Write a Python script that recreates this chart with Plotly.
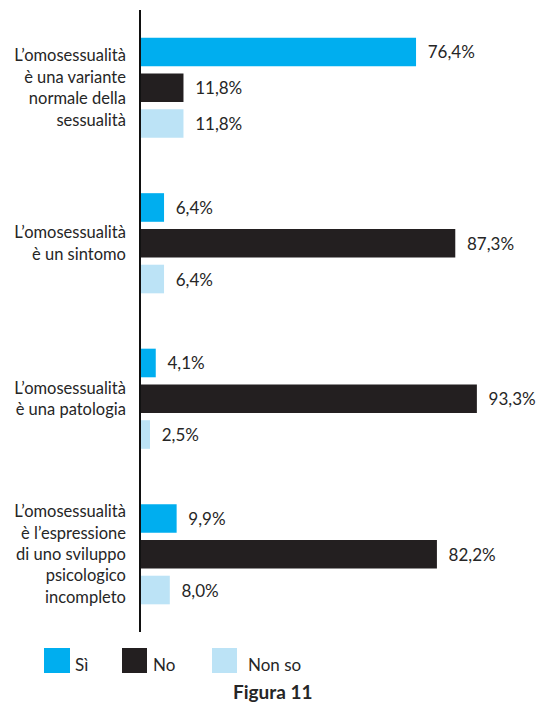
import plotly.graph_objects as go

categories = [
    "L’omosessualità<br>è una variante<br>normale della<br>sessualità",
    "L’omosessualità<br>è un sintomo",
    "L’omosessualità<br>è una patologia",
    "L’omosessualità<br>è l’espressione<br>di uno sviluppo<br>psicologico<br>incompleto",
]
series_names = ["Sì", "No", "Non so"]
si_values = [76.4, 6.4, 4.1, 9.9]
no_values = [11.8, 87.3, 93.3, 82.2]
nonso_values = [11.8, 6.4, 2.5, 8.0]
colors = ["#00aeef", "#231f20", "#bce3f6"]
title_text = "Figura 11"

W, H = 544, 710
ML, MR, MT, MB = 141, 43, 10, 78
PW, PH = W - ML - MR, H - MT - MB
FONT = "Lato, 'Open Sans', sans-serif"
TXT = "#262626"


def fmt(v):
    return "  " + f"{v:.1f}".replace(".", ",") + "%"


def px(x):
    return (x - ML) / PW


def py(y):
    return (H - MB - y) / PH


fig = go.Figure()
for name, vals, col in zip(series_names, [si_values, no_values, nonso_values], colors):
    fig.add_trace(go.Bar(
        y=categories, x=vals, orientation="h", name=name,
        marker=dict(color=col, line=dict(width=0)),
        text=[fmt(v) for v in vals], textposition="outside",
        textfont=dict(family=FONT, size=17, color=TXT),
        cliponaxis=False, showlegend=False,
    ))

# manual legend
leg = [(44, 70, 73), (122, 147, 151), (212, 237, 246)]
for (x0, x1, tx), name, col in zip(leg, series_names, colors):
    fig.add_shape(type="rect", xref="paper", yref="paper",
                  x0=px(x0), x1=px(x1), y0=py(673), y1=py(648),
                  fillcolor=col, line=dict(width=0))
    fig.add_annotation(xref="paper", yref="paper", x=px(tx), y=py(677),
                       xanchor="left", yanchor="bottom", text=name, showarrow=False,
                       font=dict(family=FONT, size=17, color=TXT))

fig.add_annotation(xref="paper", yref="paper", x=px(273), y=py(691),
                   xanchor="center", yanchor="middle", text="<b>" + title_text + "</b>",
                   showarrow=False, font=dict(family=FONT, size=19, color=TXT))

fig.update_layout(
    width=W, height=H,
    margin=dict(l=ML, r=MR, t=MT, b=MB),
    paper_bgcolor="white", plot_bgcolor="white",
    barmode="group", bargap=0.31, bargroupgap=0.2,
    xaxis=dict(range=[0, 100], visible=False, showgrid=False, zeroline=False, fixedrange=True),
    yaxis=dict(autorange="reversed", showline=True, linecolor="#111111", linewidth=1.5,
               showgrid=False, zeroline=False, ticks="", ticklabelstandoff=10,
               tickfont=dict(family=FONT, size=16.5, color=TXT)),
    font=dict(family=FONT),
)

fig.write_html("out.html")
